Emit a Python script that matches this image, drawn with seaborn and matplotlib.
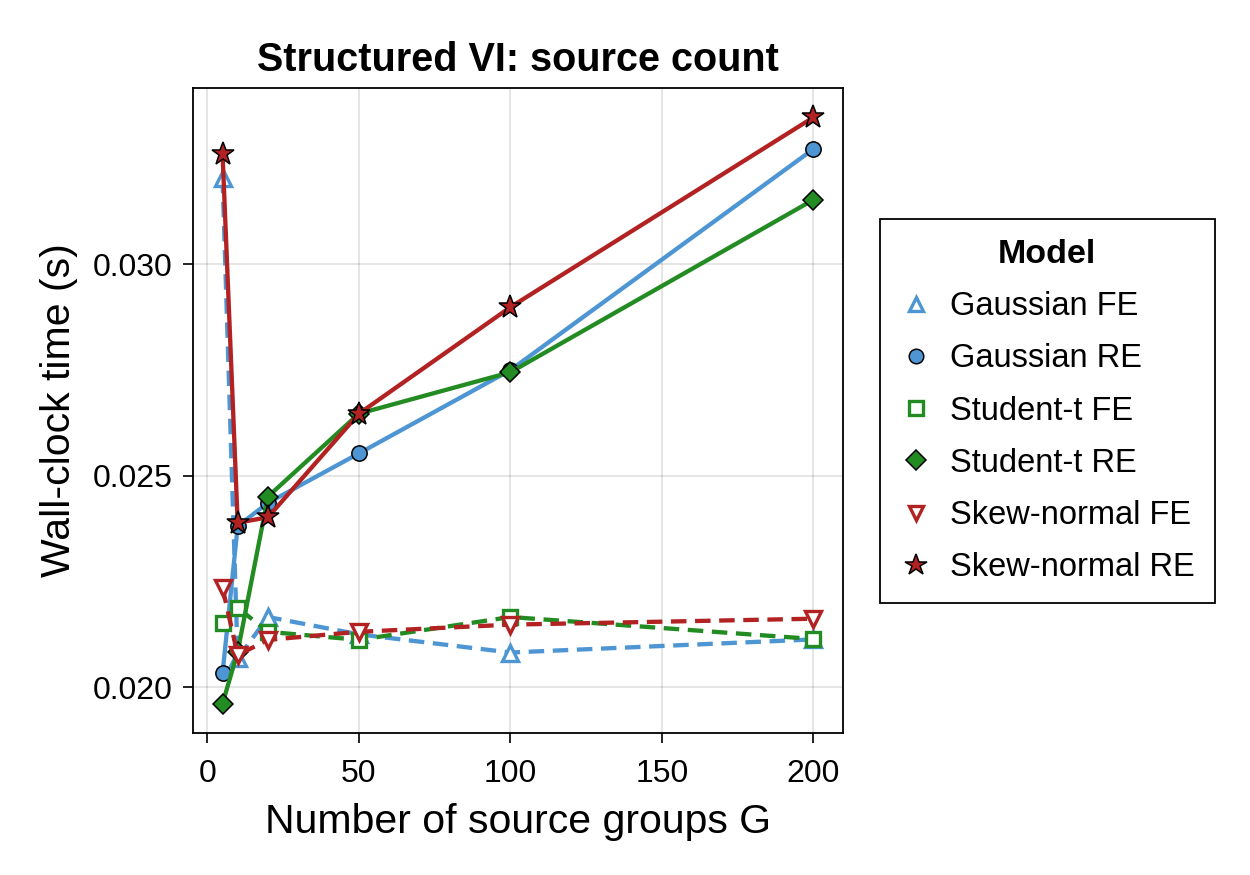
import numpy as np
import pandas as pd
import matplotlib
matplotlib.use("Agg")
import matplotlib.pyplot as plt
import seaborn as sns

# ---- data ----
groups = [5, 10, 20, 50, 100, 200]
gaussian_fe = [0.03205, 0.02068, 0.02166, 0.02125, 0.02082, 0.02113]
gaussian_re = [0.02033, 0.02381, 0.02436, 0.02553, 0.02750, 0.03273]
student_fe = [0.02153, 0.02188, 0.02131, 0.02112, 0.02166, 0.02114]
student_re = [0.01961, 0.02084, 0.02451, 0.02647, 0.02745, 0.03153]
skew_fe = [0.02235, 0.02076, 0.02112, 0.02131, 0.02148, 0.02162]
skew_re = [0.03262, 0.02389, 0.02402, 0.02647, 0.02899, 0.03348]
series_names = ["Gaussian FE", "Gaussian RE", "Student-t FE", "Student-t RE",
                "Skew-normal FE", "Skew-normal RE"]
series_vals = [gaussian_fe, gaussian_re, student_fe, student_re, skew_fe, skew_re]

df = pd.DataFrame({
    "G": groups * len(series_names),
    "time": sum(series_vals, []),
    "Model": sum([[n] * len(groups) for n in series_names], []),
})

# ---- style ----
sns.set_theme(style="white")
plt.rcParams["font.family"] = ["Liberation Sans", "DejaVu Sans"]
for k in ["text.color", "axes.labelcolor", "xtick.color", "ytick.color"]:
    plt.rcParams[k] = "black"

blue = "#4E96D3"
green = "#228B22"
red = "#B22222"
styles = {
    "Gaussian FE": dict(color=blue, marker="^", dashed=True, filled=False, ms=11),
    "Gaussian RE": dict(color=blue, marker="o", dashed=False, filled=True, ms=11),
    "Student-t FE": dict(color=green, marker="s", dashed=True, filled=False, ms=10),
    "Student-t RE": dict(color=green, marker="D", dashed=False, filled=True, ms=10.5),
    "Skew-normal FE": dict(color=red, marker="v", dashed=True, filled=False, ms=11),
    "Skew-normal RE": dict(color=red, marker="*", dashed=False, filled=True, ms=17),
}

fig = plt.figure(figsize=(12.5, 8.75), dpi=100)
ax = fig.add_axes([193 / 1250, 1 - 733 / 875, 650 / 1250, 645 / 875])

for name in series_names:
    st = styles[name]
    sub = df[df["Model"] == name]
    n_before = len(ax.lines)
    sns.lineplot(data=sub, x="G", y="time", ax=ax, color=st["color"], label=name,
                 errorbar=None)
    line = ax.lines[n_before]
    line.set_linewidth(3.1)
    line.set_marker(st["marker"])
    line.set_markersize(st["ms"])
    if st["filled"]:
        line.set_markerfacecolor(st["color"])
        line.set_markeredgecolor("black")
        line.set_markeredgewidth(1.1)
    else:
        line.set_markerfacecolor("white")
        line.set_markeredgecolor(st["color"])
        line.set_markeredgewidth(2.4)
    if st["dashed"]:
        line.set_linestyle((0, (3.6, 2.0)))
    else:
        line.set_linestyle("-")

ax.grid(True, color="#000000", alpha=0.12, lw=1.2)
for s in ax.spines.values():
    s.set_color("black")
    s.set_linewidth(1.3)
ax.tick_params(axis="both", which="major", direction="out", length=7.5, width=1.2,
               color="black", labelsize=23, bottom=True, left=True)
ax.tick_params(axis="x", pad=11.5)
ax.tick_params(axis="y", pad=7)
ax.set_xticks([0, 50, 100, 150, 200])
ax.set_yticks([0.020, 0.025, 0.030])
ax.set_yticklabels(["0.020", "0.025", "0.030"])
ax.set_xlabel("Number of source groups G", fontsize=29.5, labelpad=10)
ax.set_ylabel("Wall-clock time (s)", fontsize=29.5, labelpad=11)
ax.set_title("Structured VI: source count", fontsize=28.5, fontweight="bold", pad=12)

handles, labels = ax.get_legend_handles_labels()
leg = ax.legend(handles, labels, title="Model", loc="center left",
                bbox_to_anchor=(880 / 1250, 1 - 411 / 875), bbox_transform=fig.transFigure,
                fontsize=23.5, title_fontproperties={"weight": "bold", "size": 24.5},
                frameon=True, fancybox=False, edgecolor="black", framealpha=1,
                borderpad=0.6, labelspacing=0.65, handlelength=1.0, handletextpad=0.55,
                borderaxespad=0, markerscale=0.95)
for h in leg.legend_handles:
    h.set_linestyle("none")
leg.get_frame().set_linewidth(1.3)

fig.savefig("out.png", dpi=100)
